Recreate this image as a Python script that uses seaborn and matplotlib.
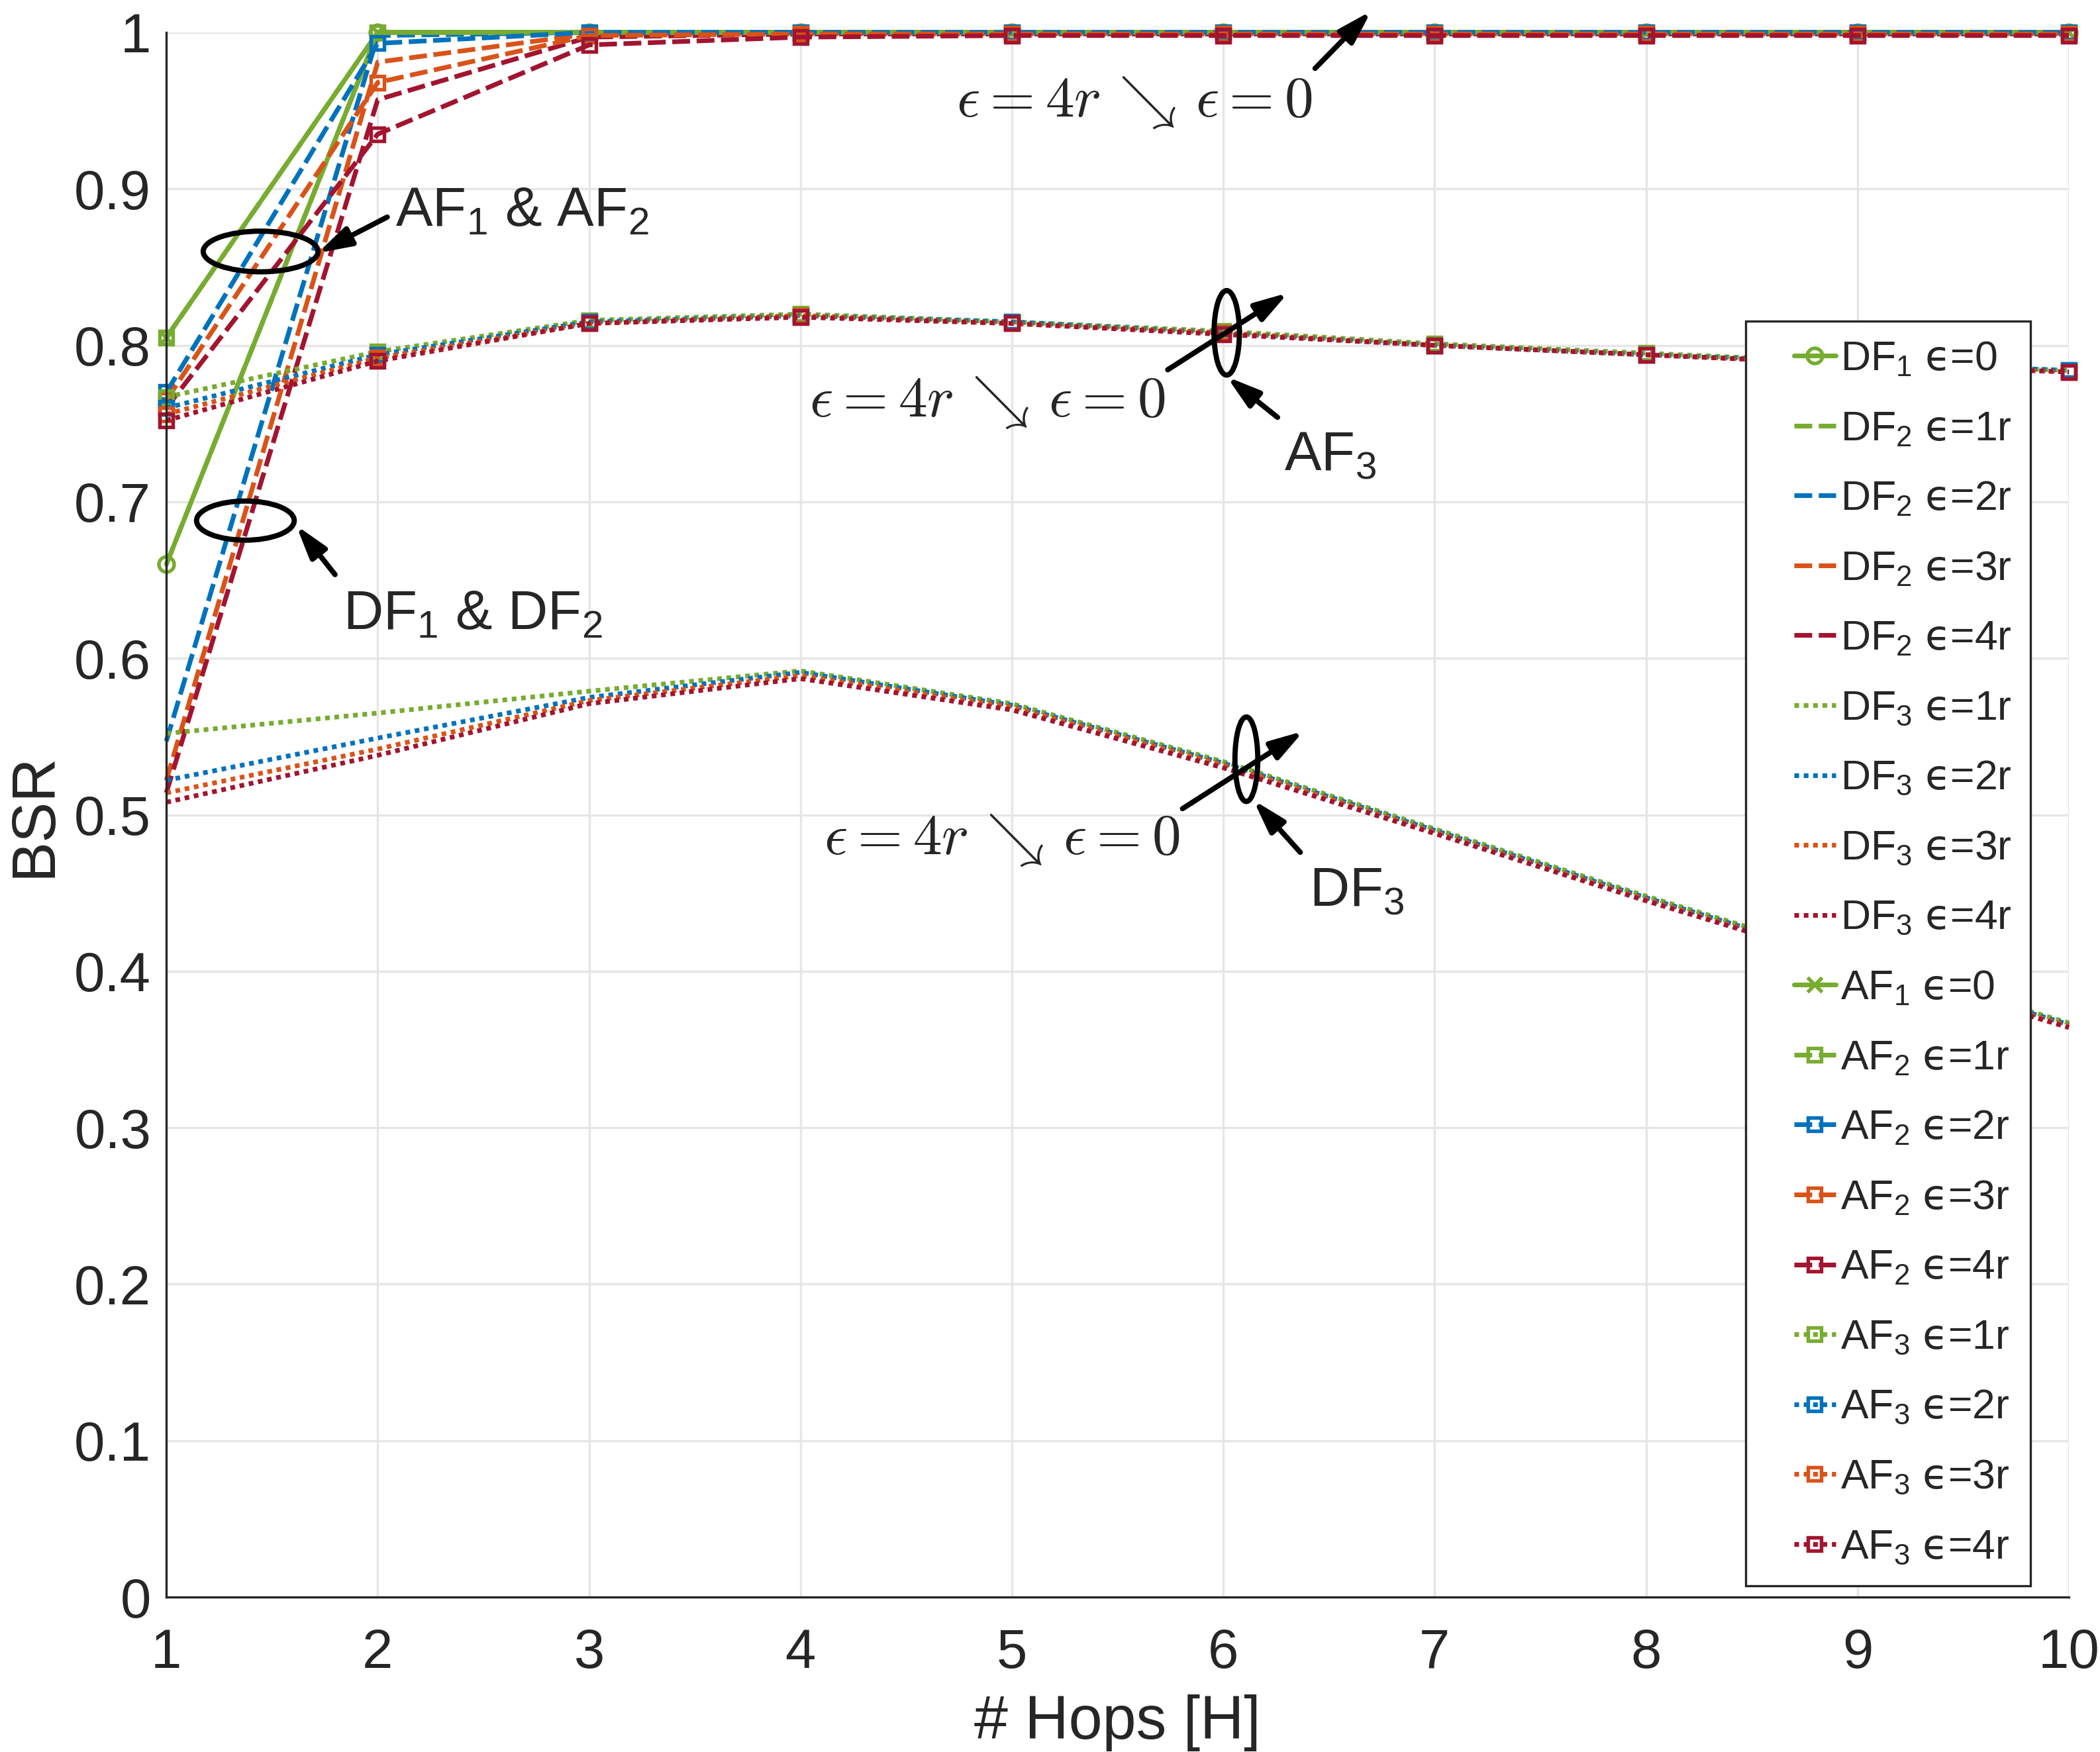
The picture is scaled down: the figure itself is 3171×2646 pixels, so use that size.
import matplotlib
matplotlib.use('Agg')
import matplotlib.pyplot as plt
from matplotlib.patches import Ellipse
from matplotlib.lines import Line2D
from matplotlib.legend_handler import HandlerLine2D
import seaborn as sns

# data
hops = [1, 2, 3, 4, 5, 6, 7, 8, 9, 10]

df1_e0 = [0.660, 1.000, 1.000, 1.000, 1.000, 1.000, 1.000, 1.000, 1.000, 1.000]
df2_e1 = [0.660, 1.000, 1.000, 1.000, 1.000, 1.000, 1.000, 1.000, 1.000, 1.000]
df2_e2 = [0.547, 0.998, 1.000, 1.000, 1.000, 1.000, 1.000, 1.000, 1.000, 1.000]
df2_e3 = [0.522, 0.981, 0.999, 1.000, 1.000, 1.000, 1.000, 1.000, 1.000, 1.000]
df2_e4 = [0.514, 0.957, 0.997, 0.999, 0.999, 0.999, 0.999, 0.999, 0.999, 0.999]

df3_e1 = [0.552, 0.565, 0.579, 0.592, 0.571, 0.534, 0.491, 0.448, 0.407, 0.367]
df3_e2 = [0.522, 0.549, 0.575, 0.591, 0.570, 0.533, 0.490, 0.447, 0.406, 0.366]
df3_e3 = [0.514, 0.542, 0.573, 0.589, 0.569, 0.532, 0.489, 0.446, 0.405, 0.365]
df3_e4 = [0.508, 0.538, 0.571, 0.587, 0.567, 0.530, 0.488, 0.445, 0.404, 0.364]

af1_e0 = [0.805, 1.000, 1.000, 1.000, 1.000, 1.000, 1.000, 1.000, 1.000, 1.000]
af2_e1 = [0.805, 1.000, 1.000, 1.000, 1.000, 1.000, 1.000, 1.000, 1.000, 1.000]
af2_e2 = [0.770, 0.993, 1.000, 1.000, 1.000, 1.000, 1.000, 1.000, 1.000, 1.000]
af2_e3 = [0.765, 0.968, 0.998, 0.999, 0.999, 0.999, 0.999, 0.999, 0.999, 0.999]
af2_e4 = [0.760, 0.935, 0.992, 0.997, 0.998, 0.998, 0.998, 0.998, 0.998, 0.998]

af3_e1 = [0.767, 0.796, 0.816, 0.820, 0.815, 0.809, 0.801, 0.795, 0.789, 0.784]
af3_e2 = [0.760, 0.794, 0.815, 0.819, 0.815, 0.808, 0.800, 0.794, 0.789, 0.784]
af3_e3 = [0.756, 0.792, 0.814, 0.819, 0.814, 0.808, 0.800, 0.794, 0.788, 0.783]
af3_e4 = [0.752, 0.790, 0.814, 0.818, 0.814, 0.807, 0.800, 0.794, 0.788, 0.783]

y_ticks = [0, 0.1, 0.2, 0.3, 0.4, 0.5, 0.6, 0.7, 0.8, 0.9, 1]
y_tick_labels = ['0', '0.1', '0.2', '0.3', '0.4', '0.5', '0.6', '0.7', '0.8', '0.9', '1']

GREEN = '#77AC30'
BLUE = '#0072BD'
ORANGE = '#D95319'
RED = '#A2142F'
eps_colors = [GREEN, BLUE, ORANGE, RED]

DASH = (0, (3.8, 1.4))
DOT = (0, (1, 1))
LW = 1.7
EPS = r'$\mathsf{ϵ}$'

sns.set_style('white')
plt.rcParams['font.family'] = ['Liberation Sans', 'DejaVu Sans']
plt.rcParams['mathtext.fontset'] = 'custom'
plt.rcParams['mathtext.rm'] = 'Liberation Sans'
plt.rcParams['mathtext.it'] = 'Liberation Sans:italic'
plt.rcParams['mathtext.bf'] = 'Liberation Sans:bold'
plt.rcParams['mathtext.sf'] = 'DejaVu Sans'

fig = plt.figure(figsize=(3171 / 300, 2646 / 300), dpi=300)
ax = fig.add_axes([0.0792, 0.0884, 0.9060, 0.8931])


def draw(y, color, ls, marker, label, ms=5):
    sns.lineplot(x=hops, y=y, ax=ax, color=color, linestyle=ls, lw=LW,
                 marker=marker, markersize=ms, markerfacecolor='none',
                 markeredgecolor=color, markeredgewidth=1.3,
                 label=label, clip_on=False, errorbar=None, legend=False)


# DF curves
draw(df1_e0, GREEN, '-', 'o', r'DF$_1$ ' + EPS + '=0', ms=5.5)
for vals, c, k in zip([df2_e1, df2_e2, df2_e3, df2_e4], eps_colors, [1, 2, 3, 4]):
    draw(vals, c, DASH, '', r'DF$_2$ ' + EPS + '=%dr' % k)
for vals, c, k in zip([df3_e1, df3_e2, df3_e3, df3_e4], eps_colors, [1, 2, 3, 4]):
    draw(vals, c, DOT, '', r'DF$_3$ ' + EPS + '=%dr' % k)

# AF curves
draw(af1_e0, GREEN, '-', 'x', r'AF$_1$ ' + EPS + '=0', ms=5.5)
for vals, c, k in zip([af2_e1, af2_e2, af2_e3, af2_e4], eps_colors, [1, 2, 3, 4]):
    draw(vals, c, DASH, 's', r'AF$_2$ ' + EPS + '=%dr' % k)
for vals, c, k in zip([af3_e1, af3_e2, af3_e3, af3_e4], eps_colors, [1, 2, 3, 4]):
    draw(vals, c, DOT, 's', r'AF$_3$ ' + EPS + '=%dr' % k)

handles = ax.get_lines()[:18]

# axes styling
ax.set_xlim(1, 10)
ax.set_ylim(0, 1)
ax.set_xticks(hops)
ax.set_yticks(y_ticks)
ax.set_yticklabels(y_tick_labels)
ax.grid(True, color='#e6e6e6', lw=0.8)
ax.set_axisbelow(True)
for s in ['top', 'right']:
    ax.spines[s].set_visible(False)
for s in ['left', 'bottom']:
    ax.spines[s].set_color('#262626')
    ax.spines[s].set_linewidth(0.8)
ax.tick_params(direction='in', length=7, width=0.8, colors='#262626',
               labelsize=20, top=False, right=False)
ax.tick_params(axis='y', pad=5.5)
ax.tick_params(axis='x', pad=11)
ax.set_xlabel('# Hops [H]', fontsize=22, color='#262626', labelpad=5.5)
ax.set_ylabel('BSR', fontsize=22, color='#262626', labelpad=4)

# annotations
arrow_kw = dict(arrowstyle='-|>,head_length=0.5,head_width=0.15', lw=1.9,
                color='k', shrinkA=0, shrinkB=0, mutation_scale=20)


def arrow(tail, tip):
    ax.annotate('', xy=tip, xytext=tail, arrowprops=arrow_kw,
                annotation_clip=False)


def ellipse(center, w, h):
    ax.add_patch(Ellipse(center, w, h, fill=False, ec='k', lw=1.9,
                         zorder=5, clip_on=False))


ellipse((1.446, 0.860), 0.543, 0.026)
arrow((2.045, 0.882), (1.716, 0.859))
ax.text(2.083, 0.876, r'AF$_1$ & AF$_2$', fontsize=20, ha='left', va='baseline')

ellipse((1.374, 0.688), 0.462, 0.025)
arrow((1.798, 0.6535), (1.614, 0.685))
ax.text(1.836, 0.6185, r'DF$_1$ & DF$_2$', fontsize=20, ha='left', va='baseline')

eps_txt = r'$\epsilon = 4r\,\searrow\,\epsilon = 0$'
ax.text(4.737, 0.9465, eps_txt, fontsize=21, ha='left', va='baseline',
        math_fontfamily='cm')
arrow((6.434, 0.977), (6.70, 1.0137))

ellipse((6.016, 0.808), 0.12, 0.054)
arrow((5.737, 0.7844), (6.307, 0.8336))
arrow((6.2565, 0.754), (6.016, 0.780))
ax.text(4.04, 0.7548, eps_txt, fontsize=21, ha='left', va='baseline',
        math_fontfamily='cm')
ax.text(6.288, 0.720, r'AF$_3$', fontsize=20, ha='left', va='baseline')

ellipse((6.109, 0.5355), 0.108, 0.054)
arrow((5.807, 0.5039), (6.38, 0.5535))
arrow((6.364, 0.476), (6.142, 0.5094))
ax.text(4.11, 0.4748, eps_txt, fontsize=21, ha='left', va='baseline',
        math_fontfamily='cm')
ax.text(6.408, 0.4417, r'DF$_3$', fontsize=20, ha='left', va='baseline')

# legend
leg = ax.legend(handles=handles, loc='upper left', bbox_to_anchor=(0.83, 0.8155),
                fontsize=15, frameon=True, fancybox=False, framealpha=1,
                edgecolor='#262626', borderpad=0.45, labelspacing=0.745,
                handlelength=1.73, handletextpad=0.12, numpoints=1,
                borderaxespad=0,
                handler_map={Line2D: HandlerLine2D(xpad=0.72)})
leg.get_frame().set_linewidth(0.8)
leg.set_zorder(10)

fig.savefig('out.png', dpi=300)
